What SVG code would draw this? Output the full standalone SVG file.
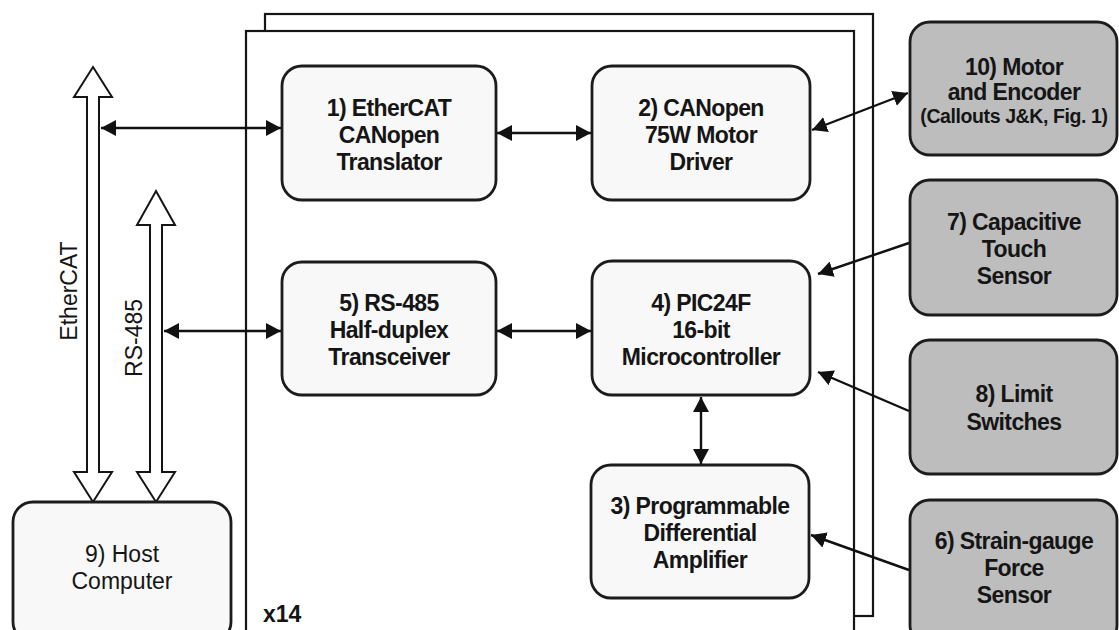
<svg xmlns="http://www.w3.org/2000/svg" width="1119" height="630" viewBox="0 0 1119 630">
<defs>
<marker id="ah" viewBox="0 0 16 16" refX="15" refY="8" markerWidth="16" markerHeight="16" markerUnits="userSpaceOnUse" orient="auto-start-reverse">
<path d="M0,0 L15,8 L0,16 z" fill="#111"/>
</marker>
<style>
.frame{fill:#fff;stroke:#151515;stroke-width:2.2}
.nw{fill:#f8f8f8;stroke:#1c1c1c;stroke-width:2.8}
.ng{fill:#bdbdbd;stroke:#1c1c1c;stroke-width:2.8}
.t{font-family:"Liberation Sans",Arial,sans-serif;font-size:23px;font-weight:bold;fill:#151515;text-anchor:middle;letter-spacing:-0.6px}
.ts{font-size:19.5px;letter-spacing:-0.4px}
.tr{font-family:"Liberation Sans",Arial,sans-serif;font-size:23px;font-weight:normal;fill:#151515;text-anchor:middle}
.c{stroke:#111;stroke-width:2.4;fill:none;marker-start:url(#ah);marker-end:url(#ah)}
.c1{stroke:#111;stroke-width:2.4;fill:none;marker-end:url(#ah)}
.bus{fill:#fff;stroke:#151515;stroke-width:2}
</style>
</defs>
<rect width="1119" height="630" fill="#fff"/>
<g id="frames">
<rect class="frame" x="265" y="14" width="608" height="602"/>
<rect class="frame" x="246" y="31" width="608" height="620"/>
<text class="t" x="263" y="622" style="text-anchor:start;letter-spacing:0">x14</text>
</g>
<g id="buses">
<path class="bus" d="M93,67 L112,97 L99,97 L99,472 L112,472 L93,502 L74,472 L87,472 L87,97 L74,97 Z"/>
<path class="bus" d="M156,191 L175,225 L162,225 L162,472 L175,472 L156,502 L137,472 L150,472 L150,225 L137,225 Z"/>
<text class="tr" transform="translate(77,291) rotate(-90)">EtherCAT</text>
<text class="tr" transform="translate(142,338) rotate(-90)">RS-485</text>
</g>
<g id="connectors">
<line class="c" x1="101" y1="128" x2="281" y2="128"/>
<line class="c" x1="497" y1="133" x2="591" y2="133"/>
<line class="c" x1="812" y1="130" x2="908" y2="93"/>
<line class="c" x1="164" y1="331" x2="281" y2="331"/>
<line class="c" x1="497" y1="331" x2="591" y2="331"/>
<line class="c" x1="701" y1="397" x2="701" y2="464"/>
<line class="c1" x1="909" y1="243" x2="818" y2="274"/>
<line class="c1" x1="909" y1="411" x2="818" y2="372"/>
<line class="c1" x1="909" y1="570" x2="811" y2="535"/>
</g>
<g id="n1">
<rect class="nw" x="282" y="66" width="214" height="134" rx="20"/>
<text class="t" x="389" y="116">1) EtherCAT</text>
<text class="t" x="389" y="143">CANopen</text>
<text class="t" x="389" y="170">Translator</text>
</g>
<g id="n2">
<rect class="nw" x="592" y="66" width="218" height="134" rx="20"/>
<text class="t" x="701" y="116">2) CANopen</text>
<text class="t" x="701" y="143">75W Motor</text>
<text class="t" x="701" y="170">Driver</text>
</g>
<g id="n5">
<rect class="nw" x="282" y="262" width="214" height="133" rx="20"/>
<text class="t" x="389" y="311">5) RS-485</text>
<text class="t" x="389" y="338">Half-duplex</text>
<text class="t" x="389" y="365">Transceiver</text>
</g>
<g id="n4">
<rect class="nw" x="592" y="261" width="218" height="134" rx="20"/>
<text class="t" x="701" y="311">4) PIC24F</text>
<text class="t" x="701" y="338">16-bit</text>
<text class="t" x="701" y="365">Microcontroller</text>
</g>
<g id="n3">
<rect class="nw" x="591" y="465" width="218" height="133" rx="20"/>
<text class="t" x="700" y="514">3) Programmable</text>
<text class="t" x="700" y="541">Differential</text>
<text class="t" x="700" y="568">Amplifier</text>
</g>
<g id="n9">
<rect class="nw" x="13" y="502" width="218" height="140" rx="20"/>
<text class="tr" x="122" y="562">9) Host</text>
<text class="tr" x="122" y="589">Computer</text>
</g>
<g id="n10">
<rect class="ng" x="910" y="22" width="207" height="133" rx="20"/>
<text class="t" x="1014" y="75">10) Motor</text>
<text class="t" x="1014" y="100">and Encoder</text>
<text class="t ts" x="1014" y="123">(Callouts J&amp;K, Fig. 1)</text>
</g>
<g id="n7">
<rect class="ng" x="910" y="180" width="207" height="135" rx="20"/>
<text class="t" x="1014" y="230">7) Capacitive</text>
<text class="t" x="1014" y="257">Touch</text>
<text class="t" x="1014" y="284">Sensor</text>
</g>
<g id="n8">
<rect class="ng" x="910" y="340" width="207" height="134" rx="20"/>
<text class="t" x="1014" y="402">8) Limit</text>
<text class="t" x="1014" y="430">Switches</text>
</g>
<g id="n6">
<rect class="ng" x="910" y="500" width="207" height="145" rx="20"/>
<text class="t" x="1014" y="549">6) Strain-gauge</text>
<text class="t" x="1014" y="576">Force</text>
<text class="t" x="1014" y="603">Sensor</text>
</g>
</svg>
